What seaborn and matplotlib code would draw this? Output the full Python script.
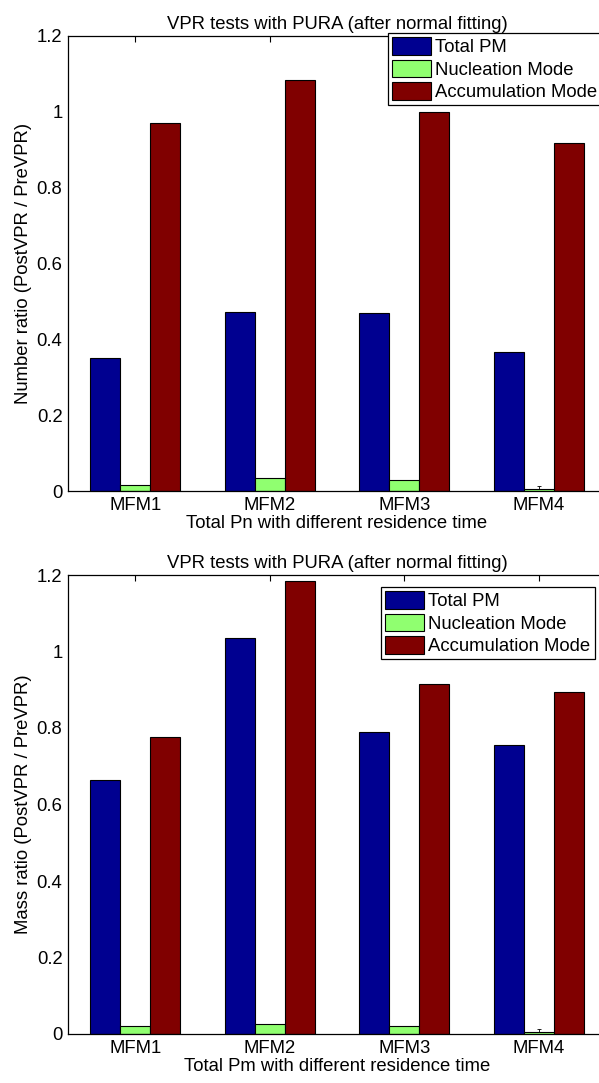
import numpy as np
import pandas as pd
import matplotlib
matplotlib.use("Agg")
import matplotlib.pyplot as plt
from matplotlib.ticker import FormatStrFormatter
import seaborn as sns

# data
sites = ["MFM1", "MFM2", "MFM3", "MFM4"]
modes = ["Total PM", "Nucleation Mode", "Accumulation Mode"]

number_total = [0.350, 0.472, 0.470, 0.366]
number_nucleation = [0.016, 0.034, 0.028, 0.005]
number_accumulation = [0.970, 1.083, 1.000, 0.918]

mass_total = [0.664, 1.035, 0.790, 0.755]
mass_nucleation = [0.021, 0.027, 0.022, 0.005]
mass_accumulation = [0.777, 1.185, 0.915, 0.895]

# tiny error bar on the MFM4 nucleation bar
err_site = "MFM4"
number_err = 0.007
mass_err = 0.008

colors = ["#000090", "#90FF70", "#800000"]

sns.set_theme(style="white")
plt.rcParams["font.family"] = ["Liberation Sans", "DejaVu Sans"]
plt.rcParams["text.color"] = "black"
plt.rcParams["axes.labelcolor"] = "black"
FS = 13.3


def long_df(total, nucleation, accumulation):
    rows = []
    for vals, m in zip([total, nucleation, accumulation], modes):
        for s, v in zip(sites, vals):
            rows.append({"site": s, "mode": m, "ratio": v})
    return pd.DataFrame(rows)


def draw(ax, df, err, title, xlabel, ylabel, legend_anchor):
    sns.barplot(data=df, x="site", y="ratio", hue="mode", hue_order=modes,
                palette=colors, width=0.667, gap=0, edgecolor="black",
                linewidth=0.8, saturation=1, errorbar=None, ax=ax)
    # error bar on nucleation bar of the last site
    i = sites.index(err_site)
    val = df[(df["site"] == err_site) & (df["mode"] == modes[1])]["ratio"].iloc[0]
    ax.errorbar([i], [val], yerr=[[0], [err]], fmt="none", ecolor="black",
                elinewidth=0.6, capsize=1.5, capthick=0.6)
    ax.set_xlim(-0.5, 3.5)
    ax.set_ylim(0, 1.2)
    ax.set_yticks(np.arange(0, 1.21, 0.2))
    ax.yaxis.set_major_formatter(FormatStrFormatter("%g"))
    ax.tick_params(direction="in", length=4, width=0.8, top=True, right=True,
                   labelsize=FS, colors="black", pad=4)
    for sp in ax.spines.values():
        sp.set_color("black")
        sp.set_linewidth(0.9)
    ax.set_title(title, fontsize=FS, pad=5, color="black")
    ax.set_xlabel(xlabel, fontsize=FS, labelpad=1)
    ax.set_ylabel(ylabel, fontsize=FS, labelpad=3)
    leg = ax.legend(loc="upper left", bbox_to_anchor=legend_anchor,
                    bbox_transform=fig.transFigure, frameon=True, fancybox=False,
                    framealpha=1, edgecolor="black", fontsize=FS,
                    handlelength=2.1, handleheight=1.1, handletextpad=0.25,
                    labelspacing=0.18, borderpad=0.22, borderaxespad=0)
    leg.get_frame().set_linewidth(0.9)
    leg.set_zorder(10)


fig = plt.figure(figsize=(5.99, 10.83), dpi=100)
W, H = 599.0, 1083.0
left = 68 / W
width = 538 / W
ax1 = fig.add_axes([left, (H - 491) / H, width, 455 / H])
ax2 = fig.add_axes([left, (H - 1034) / H, width, 459 / H])

draw(ax1, long_df(number_total, number_nucleation, number_accumulation), number_err,
     "VPR tests with PURA (after normal fitting)",
     "Total Pn with different residence time",
     "Number ratio (PostVPR / PreVPR)", (388 / W, (H - 33) / H))
draw(ax2, long_df(mass_total, mass_nucleation, mass_accumulation), mass_err,
     "VPR tests with PURA (after normal fitting)",
     "Total Pm with different residence time",
     "Mass ratio (PostVPR / PreVPR)", (381 / W, (H - 587) / H))

fig.savefig("out.png", dpi=100)
